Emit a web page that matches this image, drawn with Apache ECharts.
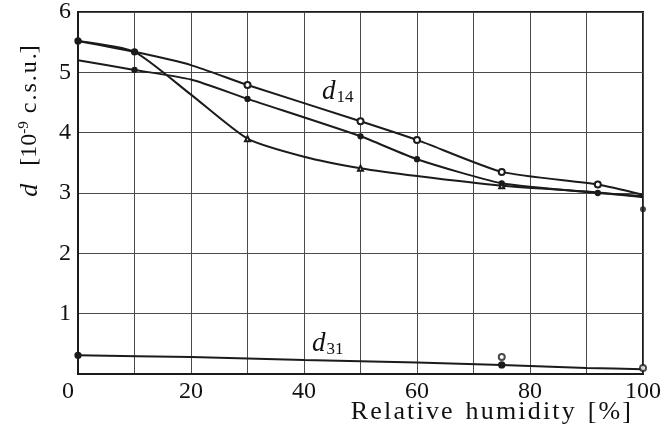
<!DOCTYPE html>
<html>
<head>
<meta charset="utf-8">
<script src="https://cdn.jsdelivr.net/npm/echarts@6/dist/echarts.min.js"></script>
<style>
html, body { margin: 0; padding: 0; background: #fff; }
#chart { width: 664px; height: 438px; }
</style>
</head>
<body>
<div id="chart"></div>
<script>
// values (relative humidity in %, d in 10^-9 c.s.u.)
var humidity = [0, 10, 20, 30, 50, 60, 75, 92, 100];
var d14Upper = [5.52, 5.34, 5.12, 4.79, 4.19, 3.88, 3.35, 3.14, 2.97];
var d14Middle = [5.2, 5.04, 4.88, 4.56, 3.94, 3.56, 3.16, 3.0, 2.95];
var lowerHumidity = [0, 10, 20, 30, 40, 50, 60, 75, 92, 100];
var d14Lower = [5.52, 5.34, 4.63, 3.9, 3.6, 3.41, 3.28, 3.12, 3.01, 2.93];
var d31Humidity = [0, 20, 40, 60, 75, 90, 100];
var d31 = [0.31, 0.28, 0.23, 0.19, 0.15, 0.1, 0.08];

// humidities where a measured point is drawn on each curve
var upperMeasured = [30, 50, 60, 75, 92];
var upperDots = [0, 10];
var middleMeasured = [10, 30, 50, 60, 75, 92];
var lowerMeasured = [30, 50, 75];
var d31Dots = [0, 75];
var openPoints = [[75, 0.28], [100, 0.1]];
var filledPoints = [[100, 2.73]];

var xLabels = [0, 20, 40, 60, 80, 100];

var serif = "'Liberation Serif', 'DejaVu Serif', serif";
var ink = '#1b1b1b';

function spaced(s) {
    return s.split('').join('\u200A');
}

function marked(xs, ys, shown, symbol, dots, dotSymbol) {
    return xs.map(function (x, i) {
        var sym = 'none';
        if (shown.indexOf(x) >= 0) sym = symbol;
        if (dots && dots.indexOf(x) >= 0) sym = dotSymbol;
        return {value: [x, ys[i]], symbol: sym};
    });
}

function curve(name, data, size) {
    return {
        name: name,
        type: 'line',
        data: data,
        smooth: 0.2,
        symbolSize: size,
        lineStyle: {color: ink, width: 2},
        itemStyle: {color: ink, borderColor: ink, borderWidth: 1.3},
        z: 3
    };
}

var chart = echarts.init(document.getElementById('chart'));

chart.setOption({
    animation: false,
    backgroundColor: '#fff',
    grid: {
        left: 78, right: 17, top: 12, bottom: 64,
        show: true,
        borderColor: ink,
        borderWidth: 2
    },
    xAxis: {
        type: 'value',
        min: 0, max: 100, interval: 10,
        axisLine: {show: true, lineStyle: {color: ink, width: 2}},
        axisTick: {show: false},
        splitLine: {show: true, lineStyle: {color: '#4a4a4a', width: 1}},
        axisLabel: {
            margin: 6,
            fontFamily: serif,
            fontSize: 24,
            color: '#111',
            formatter: function (v) {
                if (xLabels.indexOf(v) < 0) return '';
                return v === 0 ? '{z|0}' : String(v);
            },
            rich: {z: {fontFamily: serif, fontSize: 24, color: '#111', padding: [0, 20, 0, 0]}}
        }
    },
    yAxis: {
        type: 'value',
        min: 0, max: 6, interval: 1,
        axisLine: {show: true, lineStyle: {color: ink, width: 2}},
        axisTick: {show: false},
        splitLine: {show: true, lineStyle: {color: '#4a4a4a', width: 1}},
        axisLabel: {
            margin: 7,
            fontFamily: serif,
            fontSize: 24,
            color: '#111',
            formatter: function (v) { return v === 0 ? '' : String(v); }
        }
    },
    graphic: [
        {
            type: 'text',
            x: 30, y: 121,
            rotation: Math.PI / 2,
            style: {
                text: '{i|d}   [10{s|-9} ' + spaced('c.s.u.') + ']',
                align: 'center',
                verticalAlign: 'middle',
                fontFamily: serif,
                fontSize: 24,
                fill: '#111',
                rich: {
                    i: {fontFamily: serif, fontStyle: 'italic', fontSize: 26, fill: '#111'},
                    s: {fontFamily: serif, fontSize: 15, fill: '#111', verticalAlign: 'top', padding: [0, 2, 12, 0]}
                }
            }
        },
        {
            type: 'text',
            x: 631, y: 412,
            style: {
                text: spaced('Relative') + '  ' + spaced('humidity') + '  ' + spaced('[%]'),
                align: 'right',
                verticalAlign: 'middle',
                fontFamily: serif,
                fontSize: 26,
                fill: '#111'
            }
        },
        {
            type: 'text',
            x: 322, y: 92,
            style: {
                text: '{i|d}{s|14}',
                verticalAlign: 'middle',
                rich: {
                    i: {fontFamily: serif, fontStyle: 'italic', fontSize: 27, fill: '#111'},
                    s: {fontFamily: serif, fontSize: 17, fill: '#111', padding: [11, 0, 0, 1]}
                }
            }
        },
        {
            type: 'text',
            x: 312, y: 344,
            style: {
                text: '{i|d}{s|31}',
                verticalAlign: 'middle',
                rich: {
                    i: {fontFamily: serif, fontStyle: 'italic', fontSize: 27, fill: '#111'},
                    s: {fontFamily: serif, fontSize: 17, fill: '#111', padding: [11, 0, 0, 1]}
                }
            }
        }
    ],
    series: [
        curve('d14 upper', marked(humidity, d14Upper, upperMeasured, 'emptyCircle', upperDots, 'circle'), 6),
        curve('d14 middle', marked(humidity, d14Middle, middleMeasured, 'circle'), 5),
        curve('d14 lower', marked(lowerHumidity, d14Lower, lowerMeasured, 'emptyTriangle'), 5),
        curve('d31', marked(d31Humidity, d31, [], 'none', d31Dots, 'circle'), 6),
        {
            name: 'open points',
            type: 'scatter',
            data: openPoints,
            symbol: 'emptyCircle',
            symbolSize: 6,
            itemStyle: {color: ink, borderColor: ink, borderWidth: 1.3},
            z: 4
        },
        {
            name: 'filled points',
            type: 'scatter',
            data: filledPoints,
            symbol: 'circle',
            symbolSize: 6,
            itemStyle: {color: ink},
            z: 4
        }
    ]
});
</script>
</body>
</html>
